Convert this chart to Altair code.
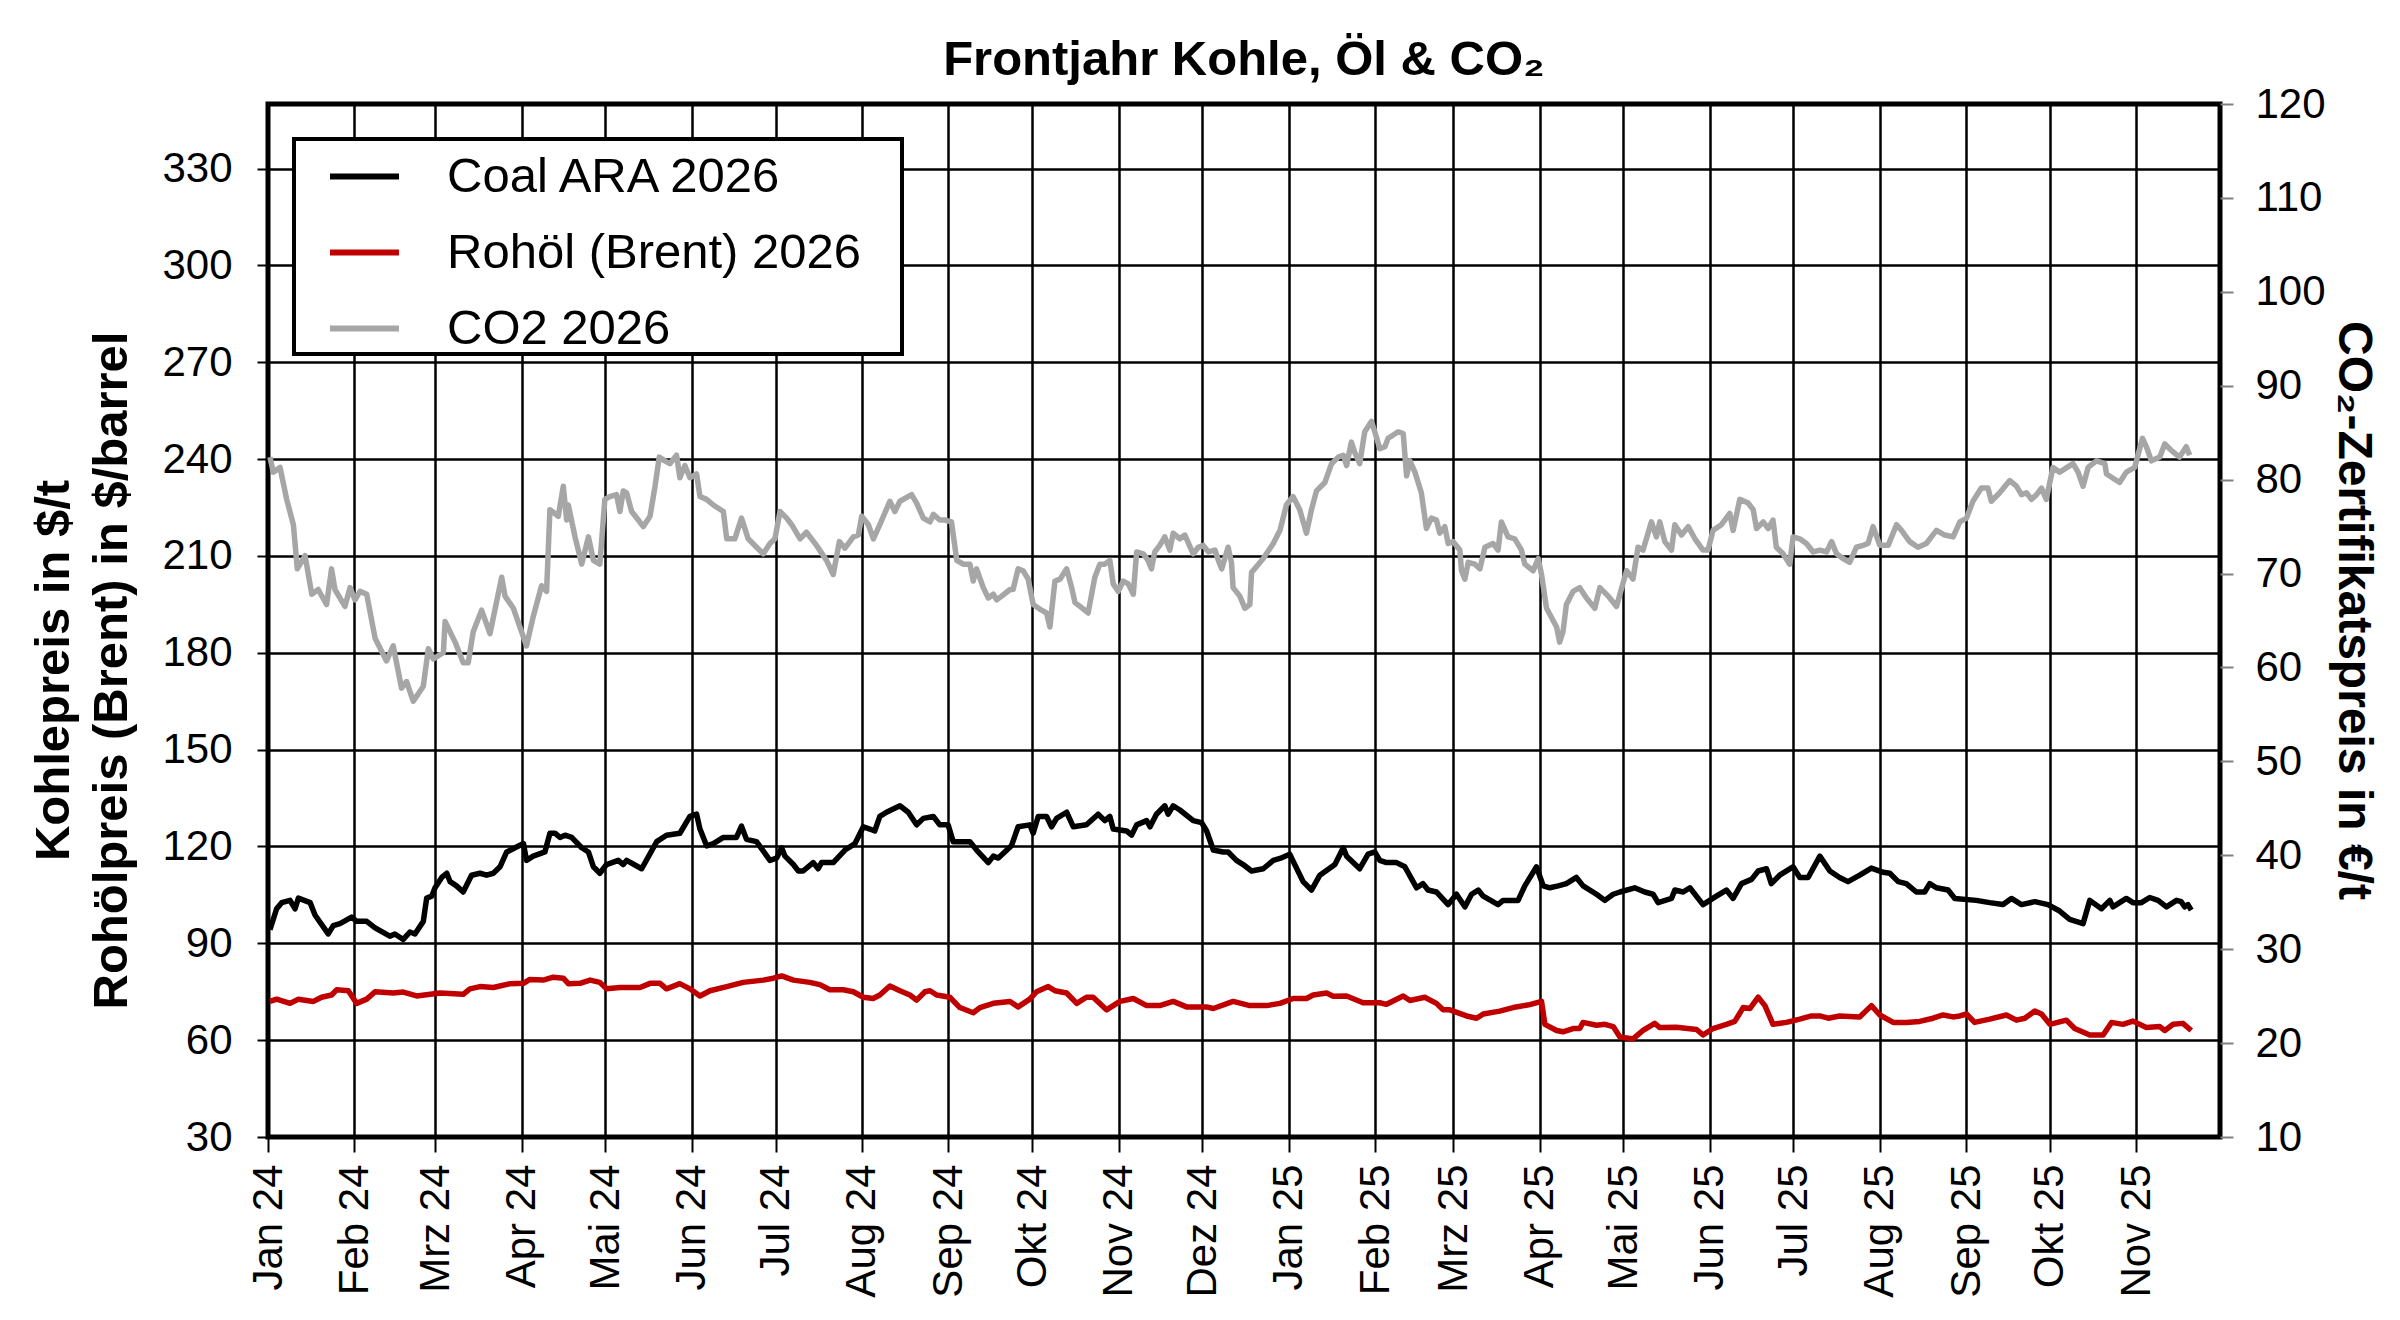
import altair as alt
import pandas as pd

FONT = "Liberation Sans, Arial, Helvetica, sans-serif"
TITLE = "Frontjahr Kohle, Öl & CO₂"
LEFT_TITLE = ["Kohlepreis in $/t", "Rohölpreis (Brent) in $/barrel"]
RIGHT_TITLE = "CO₂-Zertifikatspreis in €/t"
SERIES = ["Coal ARA 2026", "Rohöl (Brent) 2026", "CO2 2026"]
COLORS = ["#000000", "#C00000", "#A6A6A6"]
MONTHS_DE = ["Jan", "Feb", "Mrz", "Apr", "Mai", "Jun", "Jul", "Aug", "Sep", "Okt", "Nov", "Dez"]
LEFT_TICKS = [30, 60, 90, 120, 150, 180, 210, 240, 270, 300, 330]
RIGHT_TICKS = [10, 20, 30, 40, 50, 60, 70, 80, 90, 100, 110, 120]
START = "2024-01-01"

# (days since 1 Jan 2024, value)
COAL = [
    (0.7, 94.2), (3.1, 100.7), (4.9, 102.6), (7.9, 103.3), (9.7, 100.7), (10.9, 104.0), (15.1, 102.6), (16.9, 98.7),
    (21.6, 92.9), (23.4, 95.5), (25.8, 96.1), (30.0, 98.1), (31.8, 96.8), (35.4, 96.8), (38.4, 94.8), (43.7, 92.2),
    (45.5, 92.9), (48.5, 91.2), (50.9, 93.5), (52.7, 92.9), (55.7, 96.8), (56.9, 104.0), (58.7, 104.6), (59.9, 107.2),
    (62.3, 110.4), (64.1, 111.7), (65.3, 109.1), (67.6, 107.8), (70.0, 105.9), (73.0, 111.1), (76.0, 111.7), (78.4, 111.1),
    (80.8, 111.7), (83.2, 113.7), (85.6, 118.3), (88.6, 119.6), (91.6, 120.9), (92.7, 115.7), (95.1, 117.0), (99.3, 118.3),
    (101.1, 124.1), (102.9, 124.1), (104.7, 122.8), (106.5, 123.5), (108.9, 122.8), (112.5, 119.6), (114.9, 118.3), (116.7, 113.7),
    (119.0, 111.7), (121.4, 114.4), (125.6, 115.7), (127.4, 114.4), (128.6, 115.7), (134.0, 113.1), (139.4, 121.5), (142.9, 123.5),
    (147.7, 124.1), (151.3, 129.3), (153.7, 130.0), (154.9, 125.4), (157.3, 120.2), (159.7, 120.9), (163.3, 122.8), (168.0, 122.8),
    (169.8, 126.3), (171.6, 122.2), (175.2, 121.5), (180.0, 115.7), (182.4, 116.4), (184.2, 119.6), (185.4, 117.0), (188.4, 114.4),
    (190.2, 112.4), (191.9, 112.4), (195.5, 115.0), (197.3, 113.1), (198.5, 115.0), (202.7, 115.0), (206.9, 118.9), (210.5, 120.9),
    (213.5, 126.1), (215.8, 125.4), (217.6, 124.8), (219.4, 129.3), (221.8, 130.6), (226.6, 132.6), (229.6, 130.6), (232.6, 126.7),
    (235.0, 128.7), (238.6, 129.3), (240.9, 126.7), (243.9, 126.7), (245.7, 121.5), (248.1, 121.5), (251.7, 121.5), (254.1, 118.9),
    (258.3, 115.0), (260.1, 117.0), (261.9, 116.4), (266.6, 120.2), (269.0, 126.1), (273.2, 126.7), (274.4, 124.1), (276.2, 129.3),
    (279.2, 129.3), (281.0, 126.1), (282.8, 128.7), (286.4, 130.6), (288.8, 126.1), (293.5, 126.7), (297.7, 130.0), (300.1, 128.0),
    (301.9, 129.3), (303.1, 125.4), (307.9, 124.8), (309.7, 123.5), (311.5, 126.7), (315.1, 128.0), (316.3, 126.1), (318.6, 130.0),
    (321.6, 132.6), (322.8, 130.0), (324.6, 132.6), (327.0, 131.3), (331.8, 128.0), (334.8, 127.4), (336.6, 124.8), (339.0, 118.9),
    (342.5, 118.3), (344.3, 118.3), (347.3, 115.7), (349.7, 114.4), (352.7, 112.4), (356.9, 113.1), (360.5, 115.7), (362.9, 116.3),
    (366.4, 117.6), (371.2, 109.1), (374.2, 106.5), (377.2, 111.1), (382.6, 114.4), (385.6, 119.6), (386.8, 117.0), (391.5, 113.1),
    (394.5, 117.6), (396.9, 118.3), (398.7, 115.7), (401.1, 115.0), (404.7, 115.0), (407.7, 113.7), (411.9, 107.2), (414.2, 108.5),
    (416.0, 106.5), (419.0, 105.9), (423.2, 102.0), (426.2, 105.2), (429.2, 101.3), (431.6, 105.2), (434.0, 106.5), (435.8, 104.6),
    (441.1, 102.0), (442.9, 103.3), (448.3, 103.3), (450.7, 107.8), (454.9, 113.7), (457.3, 107.8), (459.7, 107.2), (462.7, 107.8),
    (465.6, 108.5), (469.2, 110.4), (471.6, 107.8), (476.4, 105.2), (479.4, 103.3), (482.4, 105.2), (484.8, 105.9), (490.1, 107.2),
    (493.7, 105.9), (496.7, 105.2), (498.5, 102.6), (503.3, 103.9), (504.5, 106.5), (507.5, 105.9), (509.9, 107.2), (514.6, 102.0),
    (519.4, 104.6), (523.0, 106.5), (525.4, 103.9), (528.4, 108.5), (532.0, 109.8), (534.4, 112.4), (537.4, 113.1), (539.1, 108.5),
    (542.1, 111.1), (546.9, 113.7), (549.3, 110.4), (552.3, 110.4), (556.5, 117.0), (560.1, 112.4), (563.6, 110.4), (566.6, 109.1),
    (570.8, 111.1), (575.0, 113.3), (579.2, 112.0), (581.6, 111.7), (584.6, 109.1), (587.5, 108.5), (591.1, 105.9), (594.1, 105.9),
    (595.9, 108.5), (598.3, 107.2), (602.5, 106.5), (604.9, 103.9), (612.6, 103.3), (617.4, 102.6), (622.2, 102.0), (625.2, 103.9),
    (628.8, 102.0), (633.6, 102.9), (638.3, 102.0), (642.5, 100.0), (646.1, 97.4), (650.9, 96.1), (653.3, 103.3), (657.5, 100.7),
    (660.5, 103.3), (661.6, 101.3), (666.4, 103.9), (668.8, 102.6), (671.8, 102.6), (674.8, 104.2), (677.8, 103.3), (680.8, 101.3),
    (684.4, 103.3), (686.1, 102.9), (687.3, 101.3), (688.5, 102.0), (689.7, 100.3),
]

OIL = [
    (0.7, 72.0), (3.1, 72.7), (7.9, 71.4), (10.9, 72.7), (16.3, 72.0), (19.2, 73.3), (22.8, 74.0), (24.6, 75.6),
    (28.8, 75.3), (31.8, 71.4), (35.4, 72.7), (38.4, 75.0), (44.9, 74.6), (48.5, 74.9), (53.3, 73.7), (61.7, 74.6),
    (70.0, 74.2), (72.4, 75.9), (76.0, 76.6), (80.8, 76.3), (86.8, 77.5), (91.6, 77.6), (93.9, 78.8), (98.7, 78.6),
    (102.3, 79.5), (105.9, 79.2), (107.7, 77.5), (111.9, 77.6), (115.5, 78.6), (119.0, 77.9), (121.4, 75.9), (126.2, 76.3),
    (133.4, 76.3), (137.0, 77.6), (140.6, 77.6), (142.9, 75.9), (147.7, 77.5), (151.3, 75.9), (154.9, 73.7), (158.5, 75.3),
    (164.5, 76.6), (170.4, 77.9), (177.6, 78.6), (181.2, 79.2), (184.2, 79.9), (188.4, 78.6), (194.3, 77.9), (197.9, 77.2),
    (201.5, 75.6), (206.3, 75.6), (209.9, 75.0), (213.5, 73.3), (217.0, 72.9), (219.4, 74.0), (223.0, 76.8), (226.6, 75.3),
    (230.2, 74.0), (232.6, 72.4), (235.6, 75.0), (237.4, 75.3), (239.8, 74.0), (244.5, 73.3), (248.1, 70.1), (252.9, 68.5),
    (255.3, 70.1), (260.1, 71.4), (266.1, 72.0), (269.0, 70.3), (273.2, 72.7), (275.6, 75.0), (279.8, 76.6), (282.2, 75.3),
    (286.4, 74.6), (290.0, 71.4), (293.5, 73.3), (295.9, 73.3), (300.7, 69.4), (305.5, 72.0), (310.3, 72.9), (315.1, 70.7),
    (319.8, 70.7), (324.6, 72.0), (329.4, 70.3), (336.6, 70.3), (339.0, 69.8), (346.1, 72.0), (352.1, 70.7), (358.1, 70.7),
    (362.9, 71.4), (367.6, 72.9), (372.4, 72.9), (374.8, 74.0), (379.6, 74.6), (382.0, 73.6), (386.8, 73.7), (392.7, 71.6),
    (398.7, 71.6), (401.1, 71.1), (407.1, 73.7), (409.5, 72.3), (414.8, 73.3), (419.0, 71.4), (421.4, 69.4), (423.8, 69.4),
    (429.8, 67.5), (433.4, 66.8), (435.8, 68.1), (441.7, 69.0), (446.5, 70.1), (452.5, 71.0), (456.7, 72.0), (457.9, 64.9),
    (462.1, 63.0), (464.4, 62.6), (468.0, 63.6), (470.4, 63.6), (471.6, 65.5), (476.4, 64.6), (479.4, 64.9), (482.4, 64.2),
    (484.8, 61.0), (489.5, 60.4), (493.1, 63.0), (497.3, 65.2), (499.1, 63.9), (505.1, 64.0), (512.3, 63.3), (514.6, 61.6),
    (518.2, 63.6), (523.0, 64.9), (526.0, 65.8), (529.0, 70.1), (531.4, 69.8), (534.4, 73.3), (536.8, 70.7), (539.7, 64.9),
    (544.5, 65.5), (549.3, 66.5), (553.5, 67.5), (556.5, 67.5), (559.5, 66.8), (563.6, 67.5), (570.8, 67.2), (575.0, 70.7),
    (578.0, 67.8), (582.8, 65.5), (587.5, 65.5), (592.3, 65.8), (597.1, 66.8), (600.7, 67.8), (604.3, 67.2), (606.7, 67.5),
    (609.1, 68.1), (612.0, 65.5), (617.4, 66.5), (623.4, 67.8), (627.0, 66.2), (630.0, 66.8), (633.6, 69.0), (636.0, 68.1),
    (639.0, 64.9), (644.9, 66.2), (647.9, 63.6), (653.3, 61.6), (658.1, 61.6), (661.1, 65.5), (665.2, 64.9), (668.8, 65.9),
    (673.6, 63.9), (678.4, 64.2), (680.2, 63.0), (683.2, 64.9), (686.7, 65.2), (689.7, 63.0),
]

CO2 = [
    (0.7, 82.4), (1.9, 80.8), (4.3, 81.3), (6.7, 77.9), (9.1, 75.2), (10.5, 70.5), (13.3, 71.9), (15.7, 67.8),
    (18.0, 68.3), (21.0, 66.7), (22.8, 70.5), (24.0, 68.3), (27.6, 66.5), (29.4, 68.5), (31.2, 67.2), (33.0, 68.1),
    (35.4, 67.8), (38.4, 63.1), (42.5, 60.7), (44.9, 62.3), (47.9, 57.8), (49.7, 58.5), (52.1, 56.4), (55.7, 58.0),
    (57.5, 62.0), (59.3, 60.9), (62.9, 61.6), (63.5, 64.9), (67.1, 62.7), (70.0, 60.5), (71.8, 60.5), (73.6, 63.8),
    (76.6, 66.1), (79.6, 63.6), (83.8, 69.6), (85.0, 67.6), (88.0, 66.3), (92.7, 62.3), (95.1, 65.4), (98.1, 68.7),
    (99.9, 68.1), (101.1, 76.8), (104.1, 76.1), (105.9, 79.3), (107.1, 75.7), (107.7, 77.3), (110.1, 73.9), (112.5, 71.0),
    (114.9, 73.9), (116.7, 71.4), (119.0, 71.0), (120.8, 77.9), (122.6, 78.2), (125.0, 78.4), (126.2, 76.6), (127.4, 78.8),
    (128.6, 78.6), (130.4, 76.6), (132.8, 75.7), (134.6, 75.0), (137.0, 76.1), (138.8, 79.3), (140.3, 82.4), (142.3, 82.0),
    (144.1, 81.7), (146.5, 82.6), (147.7, 80.2), (149.5, 81.5), (151.3, 80.2), (153.7, 80.6), (154.9, 78.2), (157.3, 77.9),
    (159.7, 77.3), (163.3, 76.6), (164.5, 73.7), (167.4, 73.7), (169.8, 75.9), (172.2, 73.7), (175.2, 72.8), (177.6, 72.1),
    (180.0, 73.2), (181.8, 73.7), (183.6, 76.6), (186.0, 75.9), (187.8, 75.2), (190.8, 73.7), (193.1, 74.4), (196.7, 73.0),
    (200.3, 71.4), (202.7, 69.9), (204.9, 73.4), (206.9, 72.7), (209.9, 73.9), (211.7, 74.1), (212.9, 76.1), (215.3, 75.2),
    (217.1, 73.7), (219.4, 75.2), (223.0, 77.7), (224.8, 76.6), (226.6, 77.7), (230.8, 78.4), (232.6, 77.5), (235.0, 75.9),
    (237.4, 75.5), (238.6, 76.3), (240.9, 75.7), (242.7, 75.7), (245.1, 75.5), (247.0, 71.4), (249.3, 71.0), (251.7, 71.0),
    (252.9, 69.2), (254.1, 70.5), (256.5, 68.5), (258.3, 67.4), (260.1, 67.8), (261.3, 67.2), (263.1, 67.6), (266.1, 68.3),
    (267.2, 68.3), (269.0, 70.5), (270.8, 70.3), (272.6, 69.4), (274.4, 66.7), (277.4, 66.1), (279.2, 65.8), (280.4, 64.3),
    (282.2, 69.2), (284.0, 69.4), (286.4, 70.5), (288.2, 68.5), (289.4, 66.9), (291.2, 66.5), (294.1, 65.8), (296.5, 69.6),
    (298.3, 71.0), (300.1, 71.0), (301.9, 71.4), (303.1, 68.9), (304.9, 68.1), (306.7, 69.2), (308.5, 68.9), (310.3, 67.8),
    (311.5, 72.3), (313.9, 72.1), (315.6, 71.4), (316.8, 70.5), (318.0, 72.3), (319.8, 73.0), (321.6, 73.9), (323.4, 72.5),
    (324.6, 74.3), (327.0, 73.7), (328.8, 74.1), (331.8, 72.1), (333.6, 72.8), (335.4, 73.0), (337.2, 72.3), (339.6, 72.5),
    (340.8, 71.4), (342.0, 70.5), (343.1, 71.6), (344.3, 72.8), (345.5, 71.2), (346.1, 68.5), (348.5, 67.6), (350.3, 66.3),
    (352.1, 66.7), (352.7, 70.1), (356.9, 71.6), (360.5, 73.2), (362.9, 74.6), (365.2, 77.3), (367.6, 78.2), (370.0, 76.8),
    (372.4, 74.3), (374.2, 76.8), (376.0, 78.8), (379.0, 79.7), (381.4, 81.7), (383.8, 82.4), (385.6, 82.6), (386.8, 81.5),
    (388.5, 84.0), (389.7, 82.9), (391.5, 81.7), (393.3, 85.1), (395.7, 86.2), (396.9, 85.1), (398.7, 83.3), (400.5, 83.5),
    (401.7, 84.4), (405.3, 85.1), (407.1, 84.9), (408.3, 80.4), (409.5, 82.0), (411.3, 80.8), (413.6, 78.6), (415.4, 74.8),
    (417.2, 75.9), (419.0, 75.7), (420.2, 74.3), (422.0, 75.0), (423.2, 73.2), (425.0, 73.4), (427.4, 72.5), (428.0, 70.3),
    (429.2, 69.4), (430.4, 71.2), (432.8, 71.0), (434.6, 70.5), (436.4, 72.8), (439.3, 73.2), (441.1, 72.5), (442.3, 75.5),
    (444.7, 73.9), (447.1, 73.7), (449.5, 72.5), (450.7, 71.0), (453.7, 70.3), (455.5, 71.6), (456.7, 69.9), (458.5, 66.3),
    (462.1, 64.3), (463.2, 62.7), (464.4, 63.8), (465.6, 66.7), (468.0, 68.1), (470.4, 68.5), (472.8, 67.4), (475.8, 66.3),
    (477.6, 68.5), (480.6, 67.6), (483.6, 66.5), (484.8, 67.8), (487.2, 70.3), (489.5, 69.4), (491.3, 72.8), (493.1, 72.5),
    (496.1, 75.5), (497.9, 73.9), (499.1, 75.5), (500.9, 73.4), (503.3, 72.5), (504.5, 75.2), (506.9, 74.1), (509.3, 75.0),
    (511.7, 73.7), (514.6, 72.5), (516.4, 72.5), (518.2, 74.6), (521.2, 75.2), (524.2, 76.4), (525.4, 74.6), (527.8, 77.9),
    (530.8, 77.5), (532.6, 76.8), (533.8, 74.8), (536.2, 75.5), (538.0, 74.8), (539.7, 75.7), (540.9, 72.8), (543.3, 72.1),
    (545.7, 71.0), (546.9, 73.9), (549.3, 73.7), (551.7, 73.2), (554.1, 72.3), (556.5, 72.5), (558.9, 72.3), (560.7, 73.4),
    (562.5, 72.1), (564.8, 71.6), (567.2, 71.2), (569.6, 72.8), (572.0, 73.0), (573.8, 73.2), (575.6, 75.0), (578.0, 73.0),
    (581.0, 73.0), (584.0, 75.2), (585.8, 74.6), (588.7, 73.4), (591.7, 72.8), (594.7, 73.2), (596.5, 73.9), (598.3, 74.6),
    (601.3, 74.1), (604.3, 73.9), (606.7, 75.5), (609.1, 75.9), (611.4, 77.7), (614.4, 79.1), (616.8, 79.1), (618.0, 77.7),
    (621.0, 78.6), (624.6, 79.9), (627.0, 79.3), (628.8, 78.4), (630.6, 78.6), (632.4, 77.9), (634.2, 78.4), (636.0, 79.1),
    (637.7, 77.9), (640.1, 81.3), (642.5, 80.8), (647.3, 81.7), (649.1, 80.8), (650.9, 79.3), (652.7, 81.3), (655.7, 82.0),
    (658.7, 81.7), (659.3, 80.6), (664.0, 79.7), (666.4, 80.8), (669.4, 81.3), (672.2, 84.4), (673.6, 83.5), (675.4, 82.0),
    (678.4, 82.4), (680.2, 83.8), (682.6, 83.1), (685.5, 82.4), (687.9, 83.5), (689.1, 82.6),
]

base = pd.Timestamp(START)


def frame(points, name, field):
    return pd.DataFrame({
        "date": [base + pd.Timedelta(days=d) for d, _ in points],
        field: [v for _, v in points],
        "serie": name,
    })


df_left = pd.concat([frame(COAL, SERIES[0], "preis"), frame(OIL, SERIES[1], "preis")], ignore_index=True)
df_right = frame(CO2, SERIES[2], "co2")

month_values = [alt.DateTime(year=2024 + (i // 12), month=(i % 12) + 1, date=1) for i in range(23)]
month_expr = "[" + ",".join("'%s'" % m for m in MONTHS_DE) + "][month(datum.value)] + ' ' + timeFormat(datum.value, '%y')"

x_enc = alt.X(
    "date:T",
    scale=alt.Scale(domain=[alt.DateTime(year=2024, month=1, date=1), alt.DateTime(year=2025, month=12, date=1)]),
    axis=alt.Axis(values=month_values, labelExpr=month_expr, labelAngle=270, tickSize=15,
                  labelPadding=12, grid=True, title=None),
)

# trailing no-break spaces (kept by a zero-width space) give the legend box its right margin
PAD = "\u00a0\u00a0\u00a0\u200b"

color_enc = alt.Color(
    "serie:N",
    scale=alt.Scale(domain=SERIES, range=COLORS),
    legend=alt.Legend(
        title=None, orient="none", legendX=26, legendY=35,
        symbolType="stroke", symbolSize=4761, symbolStrokeWidth=6,
        symbolOffset=33, labelOffset=45, rowPadding=13, padding=0,
        labelFont=FONT, labelFontSize=49, labelColor="black", labelLimit=0,
        labelExpr="datum.label + '" + PAD + "'",
        strokeColor="black", fillColor="white",
    ),
)

left = alt.Chart(df_left).mark_line(strokeWidth=5.5, strokeJoin="round").encode(
    x=x_enc,
    y=alt.Y(
        "preis:Q",
        scale=alt.Scale(domain=[30, 350], nice=False, zero=False),
        axis=alt.Axis(orient="left", values=LEFT_TICKS, grid=True, tickSize=11, labelPadding=25,
                      title=LEFT_TITLE, titleFontSize=49, titleLineHeight=58, titleAngle=270,
                      titleBaseline="alphabetic", titleAlign="center", titleX=-200, titleY=566),
    ),
    color=color_enc,
)

right = alt.Chart(df_right).mark_line(strokeWidth=5.5, strokeJoin="round").encode(
    x=x_enc,
    y=alt.Y(
        "co2:Q",
        scale=alt.Scale(domain=[10, 120], nice=False, zero=False),
        axis=alt.Axis(orient="right", values=RIGHT_TICKS, grid=False, tickSize=13, labelPadding=22,
                      tickColor="#808080", title=RIGHT_TITLE, titleFontSize=48, titleAngle=90,
                      titleBaseline="alphabetic", titleAlign="center", titleX=118, titleY=506),
    ),
    color=color_enc,
)

chart = (
    alt.layer(left, right)
    .resolve_scale(y="independent")
    .properties(
        width=1952, height=1033,
        autosize=alt.AutoSizeParams(type="none"),
        padding={"left": 260, "top": 96, "right": 172, "bottom": 175},
        background="white",
        title=alt.TitleParams(text=TITLE, font=FONT, fontSize=49, fontWeight="bold", color="black",
                              anchor="middle", frame="group", baseline="alphabetic", offset=32, dy=73),
    )
    .configure_view(stroke="black", strokeWidth=5)
    .configure_axis(labelFont=FONT, labelFontSize=42, labelColor="black", titleFont=FONT,
                    titleColor="black", titleFontWeight="bold", domain=False, tickColor="black",
                    tickWidth=2, gridColor="black", gridWidth=2.5, gridOpacity=1)
    .configure_legend(strokeWidth=4)
)

chart.save("out.html", embed_options={"renderer": "svg", "actions": False})
